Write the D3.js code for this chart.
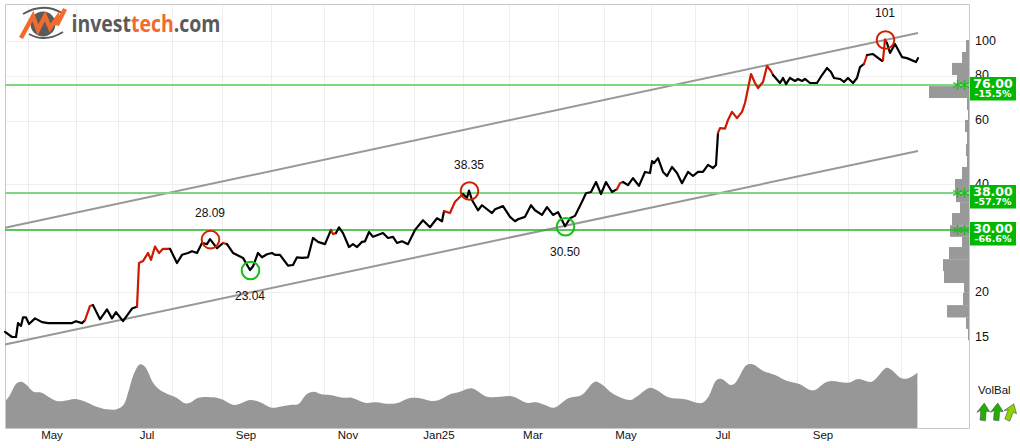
<!DOCTYPE html>
<html>
<head>
<meta charset="utf-8">
<script src="https://cdn.jsdelivr.net/npm/d3@7"></script>
<style>
html,body{margin:0;padding:0;background:#fff}
svg{display:block}
text{font-family:"Liberation Sans",Arial,sans-serif;fill:#111}
</style>
</head>
<body>
<svg id="chart" width="1020" height="448"></svg>
<script>
// Closing prices, positioned by session number
const sessions = [0,3.5,5.5,6.5,8,9,10.5,12,15,18.5,21.5,33.5,35.5,38.5,40,42.5,44,47.5,51,53.5,55.5,59,63.5,66,67,69,71.5,73,75,77,79,82.5,86,88.5,91.5,93.5,96,98.5,101,102.5,106,109,111,114,119,122.5,124,126.5,128.5,131,133.5,135,137.5,141.5,144,146,148.5,151.5,154,156.5,160,163,164,165.5,167,169,172,174,176,178.5,180,182,184,186,189,191.5,194,196,198.5,201.5,205,209,212.5,216,218.5,219.5,222.5,225,229,231,232,233.5,236.5,238.5,243.5,245,249,252.5,255,256.5,260,263,265,268.5,271,274,276.5,280,282.5,285,288.5,290.5,293,295.5,298,300.5,303.5,306,307.5,309,311.5,314,317,320,322.5,323.5,324.5,326.5,329,331,333.5,336,338.5,341.5,344,346.5,349,351.5,354,355.5,356.5,357.5,360,361.5,363.5,366,368.5,370,373,375,376.5,379,381,383,384,387.5,389,390.5,392.5,395,396.5,398.5,400,402.5,406,408.5,411,413,414.5,417.5,419.5,421.5,424,426,427.5,429.5,431,434,438.5,439,440,441,442.5,445,448.5,451,455.5,456.5];
const closes = [15.5,15.0,15.0,16.4,16.1,17.0,17.0,16.3,16.9,16.5,16.4,16.4,16.6,16.4,16.7,18.3,18.4,16.8,17.9,16.9,17.6,16.6,18.0,18.2,24.1,24.4,25.7,24.6,26.8,25.7,26.4,26.4,24.1,25.4,25.7,26.0,25.7,27.4,27.2,28.09,26.5,27.4,27.2,25.7,24.9,23.04,23.6,25.7,25.0,25.5,25.7,25.4,25.4,23.7,23.8,25.0,24.9,25.0,28.3,27.6,27.2,29.8,29.0,29.2,30.3,29.2,26.7,27.2,26.7,27.6,27.7,29.4,28.5,28.8,29.2,28.3,28.5,27.4,27.7,27.2,29.8,31.7,30.3,32.1,31.5,33.6,33.2,35.7,37.5,36.6,38.35,36.1,33.8,34.9,33.2,34.0,34.7,32.4,31.5,31.9,32.4,34.9,33.8,32.8,34.5,32.8,33.4,30.50,32.1,32.6,35.7,37.7,38.0,40.5,37.5,40.5,38.0,38.7,40.2,40.5,39.7,41.5,39.5,43.2,42.9,46.3,45.7,47.2,43.2,42.1,44.6,42.9,40.2,43.2,42.1,43.2,43.2,45.2,44.3,45.2,55.5,57.2,57.0,60.3,63.5,61.0,63.5,67.2,80.9,76.4,74.0,76.9,85.2,82.5,80.4,76.4,78.9,75.9,78.9,77.4,78.4,77.4,78.4,76.4,76.4,80.4,84.1,82.0,78.9,78.4,76.9,78.9,76.4,78.9,84.6,86.3,91.4,92.0,88.0,88.5,101,98.7,92.6,98.1,90.2,89.6,87.4,89.6];

// Session spans coloured by trend signal
const redSpans = [[40,45],[66,84],[108.5,111],[163,166],[219.5,229],[306.5,309],[326,327],[356.5,384],[429.5,431],[439,441.5]];
const greenSpans = [[37.5,39]];

// Turning points with their printed values
const pivotSessions = [102.5,122.5,232,280,440];
const pivotPrices = [28.09,23.04,38.35,30.50,101];
const pivotLabels = ["28.09","23.04","38.35","30.50","101"];
const pivotKinds = ["top","bottom","top","bottom","top"];

// Rising trend channel
const channelSessions = [0,456.5];
const channelUpper = [30.2,105.3];
const channelLower = [14.3,49.4];

// Support and resistance levels
const levelPrices = [76,38,30];
const levelLabels = ["76.00","38.00","30.00"];
const levelChanges = ["-15.5%","-57.7%","-66.6%"];
const levelColours = ["#7fd87f","#7fd87f","#22b422"];

// Axis ticks
const priceTicks = [100,80,60,40,20,15];
const monthStartSessions = [11.5,35.5,56.5,83.5,108.5,133,159.5,184,204.5,229,252,276.5,299.5,323,345,371.5,396,421.5,448];
const monthNames = ["May","Jul","Sep","Nov","Jan25","Mar","May","Jul","Sep"];
const monthLabelSessions = [23.5,71,120.5,171.5,217,264,310.5,359,409];

// Share of traded volume per price band, top band first
const bandEdges = [100.6,93.2,86.9,80.4,74.9,69.4,64.3,60.3,55.8,51.7,47.8,44.6,41.3,38.2,35.6,33.2,30.7,28.5,26.7,24.7,22.9,21.2,19.9,18.4,17.0,15.8,14.7];
const bandVolumes = [3.5,7.5,17.5,12.5,40.5,2.5,1.5,4.5,2.5,3.5,2.5,7.5,14.5,13.5,9.5,17.5,19.5,7.5,20.5,26.5,25.5,5.5,6.5,22.5,3.5,1.5];

// Volume balance indicator underneath the prices
const balanceSessions = [0,2.5,5.8,8.3,10.8,14.2,18.3,21.7,25.8,29.2,35,39.2,45.8,50.8,55.8,59.2,61.7,64.2,67.5,70,74.2,77.5,82.5,85.8,90,92.5,96.7,104.2,108.3,114.2,116.7,122.5,127.5,133.3,137.5,142.5,146.7,150.8,154.2,158.3,162.5,169.2,173.3,180,185.8,190.8,195.8,202.5,206.7,213.3,216.7,222.5,227.5,233.3,241,252.5,255,260.8,265.8,270,274.5,281.7,288.3,295,298.3,304.2,312.5,315.8,322.5,325.8,331.7,340,345.8,348.8,351.7,355.8,358.3,362.8,365,370.8,373.8,379.2,385,390.8,397.5,402.5,405,410,413.3,421.7,426.7,433.3,440.8,443.3,448.3,451.7,456.2];
const balanceValues = [26.3,33,44.7,46.3,43,36.3,35.3,31.3,27,27,29,27,21.3,18.7,18.7,23,36.3,53,63.7,61.3,44.7,38,33,30.3,24.7,25.3,30.3,30.7,28.7,23,23.7,28,25.7,20.3,21.3,23,24,33.7,36.3,33.7,33,30.3,30.3,25.3,25.7,24.3,24.7,30,30,27,27.7,33.7,36.3,39.7,31.3,32,30.7,25.3,25.7,23,20.3,29.7,33,46.3,43.7,34,28,31.3,40.3,38,30.7,28.7,25.3,25.3,31.3,48,49,43,44.7,63,63.7,57,53,47.3,43.7,38,38,45.3,47,45.3,49,46.3,60.3,58,49.7,49.7,55.3];

const balanceCaption = "VolBal";
const balanceArrowColours = ["#1fb000","#1fb000","#8fd400"];

const svg = d3.select("#chart");
const frame = {left:5, right:970, top:4, bottom:428};
const x = d3.scaleLinear().domain([0,482.5]).range([frame.left, frame.right]);
const y = d3.scaleLog().domain([100,15]).range([41,337]);
const volY = d3.scaleLinear().domain([0,100]).range([frame.bottom, frame.bottom-100]);
const bandW = d3.scaleLinear().domain([0,100]).range([0,100]);

// Grid
const grid = svg.append("g").attr("stroke","#eeeeee").attr("stroke-width",1);
grid.selectAll(".v").data(monthStartSessions).join("line")
  .attr("x1",d=>Math.round(x(d))+.5).attr("x2",d=>Math.round(x(d))+.5)
  .attr("y1",frame.top).attr("y2",frame.bottom);
grid.selectAll(".h").data(priceTicks).join("line")
  .attr("x1",frame.left).attr("x2",frame.right)
  .attr("y1",d=>Math.round(y(d))+.5).attr("y2",d=>Math.round(y(d))+.5);

// Volume balance area
svg.append("path")
  .datum(balanceSessions.map((s,i)=>[s,balanceValues[i]]))
  .attr("fill","#979797")
  .attr("d",d3.area().x(d=>x(d[0])).y0(volY(0)).y1(d=>volY(d[1])).curve(d3.curveCatmullRom.alpha(0.5)));

// Volume by price, hanging off the right edge
svg.append("g").selectAll("rect").data(bandVolumes).join("rect")
  .attr("x",d=>frame.right-0.5-bandW(d))
  .attr("width",d=>bandW(d))
  .attr("y",(d,i)=>y(bandEdges[i]))
  .attr("height",(d,i)=>y(bandEdges[i+1])-y(bandEdges[i]))
  .attr("fill","#999999");

// Frame
svg.append("path")
  .attr("d",`M${frame.left+.5},${frame.bottom+.5}V${frame.top+.5}H${frame.right-.5}V${frame.bottom+.5}H${frame.left+.5}`)
  .attr("fill","none").attr("stroke","#c8c8c8").attr("stroke-width",1);

// Trend channel
[channelUpper,channelLower].forEach(c=>{
  svg.append("line")
    .attr("x1",x(channelSessions[0])).attr("y1",y(c[0]))
    .attr("x2",x(channelSessions[1])).attr("y2",y(c[1]))
    .attr("stroke","#989898").attr("stroke-width",2);
});

// Price axis labels
const priceAxis = d3.axisRight(y).tickValues(priceTicks).tickSize(0).tickPadding(0).tickFormat(d3.format("d"));
const axisG = svg.append("g").attr("transform","translate(975,0)").call(priceAxis);
axisG.select(".domain").remove();
axisG.selectAll("text").attr("font-size",12.5).attr("dy","0.25em").style("font-family",'"Liberation Sans",Arial,sans-serif').attr("fill","#111");

// Month labels
svg.append("g").selectAll("text").data(monthNames).join("text")
  .attr("x",(d,i)=>x(monthLabelSessions[i])).attr("y",439)
  .attr("text-anchor","middle").attr("font-size",11.5).text(d=>d);

// Support and resistance levels with their tags
levelPrices.forEach((p,i)=>{
  const yy = Math.round(y(p));
  svg.append("line").attr("x1",frame.left).attr("x2",frame.right-1)
    .attr("y1",yy+1).attr("y2",yy+1)
    .attr("stroke",levelColours[i]).attr("stroke-width",i===2?1.6:2);
  [957.5,964.5].forEach(cx=>{
    svg.append("path").attr("d",d3.symbol(d3.symbolAsterisk,70)())
      .attr("transform",`translate(${cx},${yy+1})`)
      .attr("fill","none").attr("stroke","#22bb22").attr("stroke-width",1.4);
  });
  svg.append("rect").attr("x",970).attr("y",yy-7).attr("width",46).attr("height",23.5).attr("fill","#00b800");
  svg.append("text").attr("x",993).attr("y",yy+3.5).attr("text-anchor","middle")
    .attr("font-size",12.5).attr("font-weight",700).style("fill","#fff")
    .style("font-family",'"DejaVu Sans",sans-serif').text(levelLabels[i]);
  svg.append("text").attr("x",993).attr("y",yy+12.5).attr("text-anchor","middle")
    .attr("font-size",9.5).attr("font-weight",700).style("fill","#fff")
    .style("font-family",'"DejaVu Sans",sans-serif').text(levelChanges[i]);
});

// Price line, cut into coloured pieces by signal
const points = sessions.map((s,i)=>[s,closes[i]]);
const line = d3.line().x(d=>x(d[0])).y(d=>y(d[1]));
const inSpan = (s,spans)=>spans.some(([a,b])=>s>=a&&s<=b);
const colourAt = (a,b)=>{
  const mid=(a[0]+b[0])/2;
  return inSpan(mid,redSpans)?"#cc1a00":inSpan(mid,greenSpans)?"#22b400":"#000000";
};
let run=[points[0]], runColour=colourAt(points[0],points[1]);
const flush=()=>svg.append("path").attr("d",line(run)).attr("fill","none")
  .attr("stroke",runColour).attr("stroke-width",2.2).attr("stroke-linejoin","round").attr("stroke-linecap","round");
for(let i=1;i<points.length;i++){
  const c=colourAt(points[i-1],points[i]);
  if(c!==runColour){flush();run=[points[i-1]];runColour=c;}
  run.push(points[i]);
}
flush();

// Pivot rings and values
pivotPrices.forEach((p,i)=>{
  const top=pivotKinds[i]==="top";
  svg.append("circle").attr("cx",x(pivotSessions[i])+.5).attr("cy",y(p)+.5).attr("r",8.8)
    .attr("fill","none").attr("stroke",top?"#cc2200":"#16c016").attr("stroke-width",2);
  svg.append("text").attr("x",x(pivotSessions[i])).attr("y",y(p)+(top?-22:30))
    .attr("text-anchor","middle").attr("font-size",12).text(pivotLabels[i]);
});

// Volume balance caption and arrows
svg.append("text").attr("x",978).attr("y",394).attr("font-size",11.5).text(balanceCaption);
const arrowPath="M0,-7.5L5.5,-1L2.5,-1L3,7L-1.5,7L-2,-1L-5,1Z";
balanceArrowColours.forEach((c,i)=>{
  svg.append("path").attr("d",arrowPath)
    .attr("transform",`translate(${983+i*13.5},412) rotate(${i===2?25:8}) scale(1.2)`)
    .attr("fill",c).attr("stroke","#555").attr("stroke-width",.5);
});

// Brand mark
const logo=svg.append("g");
logo.append("circle").attr("cx",43).attr("cy",24).attr("r",12.5).attr("fill","#5a5a5a");
logo.append("path").attr("d","M23,14Q43,2 62,13").attr("fill","none").attr("stroke","#5a5a5a").attr("stroke-width",2);
logo.append("path").attr("d","M29,34Q45,43 63,32").attr("fill","none").attr("stroke","#5a5a5a").attr("stroke-width",2);
logo.append("path").attr("d","M21,38L33,16L38,30L45,16L50,28L57,18L57,25L65,9")
  .attr("fill","none").attr("stroke","#f26a2c").attr("stroke-width",4.4).attr("stroke-linejoin","miter");
const word=svg.append("text").attr("x",71.5).attr("y",32).attr("font-size",23).attr("font-weight",700)
  .style("font-family",'"Open Sans",sans-serif').attr("textLength",149).attr("lengthAdjust","spacingAndGlyphs");
word.append("tspan").style("fill","#5a5a5a").text("invest");
word.append("tspan").style("fill","#f26a2c").text("tech");
word.append("tspan").style("fill","#5a5a5a").text(".com");
</script>
</body>
</html>
